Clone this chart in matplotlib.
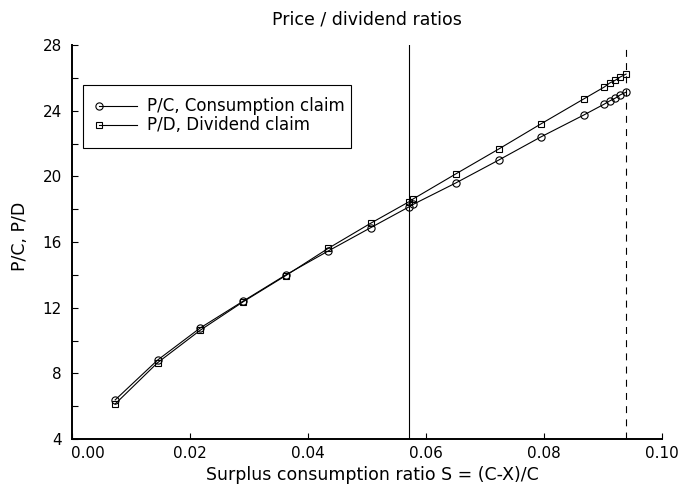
import matplotlib
matplotlib.use("Agg")
import matplotlib.pyplot as plt
from matplotlib.patches import Rectangle

# ---- data ----
surplus = [0.0074, 0.0146, 0.0218, 0.0291, 0.0363, 0.0435, 0.0507, 0.0572, 0.0579,
           0.0651, 0.0724, 0.0795, 0.0868, 0.0903, 0.0912, 0.0922, 0.0930, 0.0940]
pc_ratio = [6.38, 8.81, 10.76, 12.40, 13.99, 15.45, 16.87, 18.14, 18.29,
            19.59, 20.99, 22.39, 23.73, 24.40, 24.59, 24.77, 24.96, 25.13]
pd_ratio = [6.13, 8.65, 10.62, 12.36, 13.95, 15.61, 17.14, 18.45, 18.62,
            20.14, 21.66, 23.18, 24.71, 25.44, 25.68, 25.86, 26.05, 26.23]
s_bar = 0.0572
s_max = 0.0940
x_ticks = [0.00, 0.02, 0.04, 0.06, 0.08, 0.10]
x_ticklabels = ["0.00", "0.02", "0.04", "0.06", "0.08", "0.10"]
y_major = [4, 8, 12, 16, 20, 24, 28]
y_minor = [6, 10, 14, 18, 22, 26]
labels = ["P/C, Consumption claim", "P/D, Dividend claim"]
title = "Price / dividend ratios"
xlabel = "Surplus consumption ratio S = (C-X)/C"
ylabel = "P/C, P/D"

plt.rcParams['font.family'] = ['DejaVu Sans']
plt.rcParams['lines.scale_dashes'] = False

W, H = 679, 491
fig = plt.figure(figsize=(W / 100, H / 100), dpi=100)
ax_l, ax_r, ax_t, ax_b = 71.5, 661.5, 45, 439
ax = fig.add_axes([ax_l / W, 1 - ax_b / H, (ax_r - ax_l) / W, (ax_b - ax_t) / H])

ax.plot(surplus, pc_ratio, color='black', lw=0.8, marker='o', ms=5.2,
        mfc='none', mec='black', mew=0.8)
ax.plot(surplus, pd_ratio, color='black', lw=0.8, marker='s', ms=4.6,
        mfc='none', mec='black', mew=0.8)
ax.axvline(s_bar, color='black', lw=0.8)
ax.axvline(s_max, color='black', lw=0.8, dashes=(5, 4.5))

ax.set_xlim(0, 0.10)
ax.set_ylim(4, 28)
ax.set_xticks(x_ticks)
ax.set_xticklabels(x_ticklabels)
ax.set_yticks(y_major)
ax.set_yticks(y_minor, minor=True)
ax.set_yticklabels([str(v) for v in y_major])
ax.get_xticklabels()[0].set_horizontalalignment('left')

for s in ['top', 'right']:
    ax.spines[s].set_visible(False)
for s in ['left', 'bottom']:
    ax.spines[s].set_linewidth(1.4)
ax.tick_params(axis='both', which='both', direction='in', length=4, width=0.8,
               labelsize=11, color='black')
ax.tick_params(axis='x', pad=5)
ax.tick_params(axis='y', pad=7)

# legend drawn manually (marker at the left end of the handle line)
box = Rectangle((0.0195, 0.7386), 0.4737 - 0.0195, 0.8985 - 0.7386,
                transform=ax.transAxes, fill=False, lw=0.8, ec='black', zorder=5)
ax.add_patch(box)
for yy, mk, ms, lab in [(0.8452, 'o', 5.2, labels[0]), (0.797, 's', 4.6, labels[1])]:
    ax.plot([0.0466, 0.111], [yy, yy], transform=ax.transAxes, color='black', lw=0.8,
            zorder=6)
    ax.plot([0.0466], [yy], transform=ax.transAxes, marker=mk, ms=ms, mfc='none',
            mec='black', mew=0.8, zorder=6)
    ax.text(0.128, yy, lab, transform=ax.transAxes, ha='left', va='center',
            fontsize=12, zorder=6)

fig.text(366.5 / W, 1 - 19 / H, title, ha='center', va='center', fontsize=12.5)
fig.text(372 / W, 1 - 475 / H, xlabel, ha='center', va='center', fontsize=12.5)
fig.text(20 / W, 1 - 236 / H, ylabel, ha='center', va='center', rotation=90,
         fontsize=12.5)

fig.savefig("out.png", dpi=100)
